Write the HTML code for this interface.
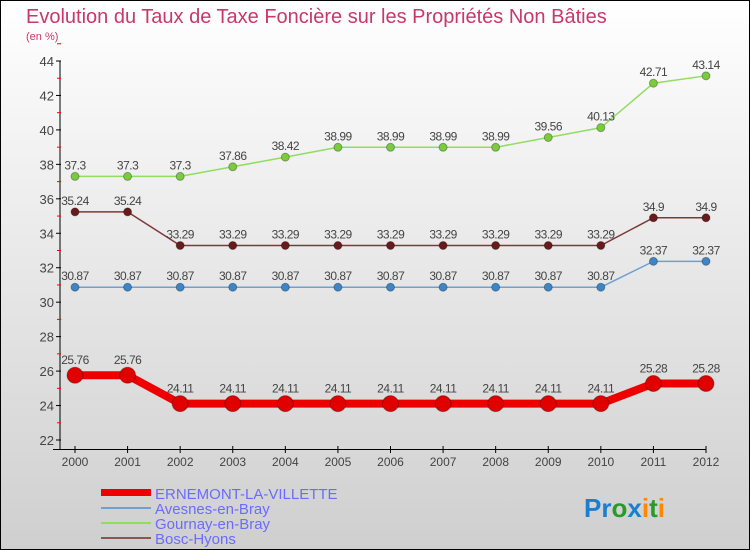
<!DOCTYPE html>
<html><head><meta charset="utf-8"><style>
body{margin:0}
svg{display:block;font-family:"Liberation Sans",sans-serif}
</style></head><body>
<svg id="c" width="750" height="550" xmlns="http://www.w3.org/2000/svg">
<defs><linearGradient id="bg" x1="0" y1="0" x2="0" y2="1"><stop offset="0" stop-color="#ffffff"/><stop offset="1" stop-color="#cfcfcf"/></linearGradient></defs>
<rect x="0.5" y="0.5" width="749" height="549" fill="url(#bg)" stroke="#000"/>
<text x="26" y="23" font-size="20" fill="#c8386a">Evolution du Taux de Taxe Foncière sur les Propriétés Non Bâties</text>
<text x="26" y="40" font-size="11" fill="#c8386a">(en %)</text>
<g id="axes"></g>
<g id="series"></g>
<g>
<rect x="101" y="489" width="50" height="7" fill="#e00"/>
<text x="155" y="499" font-size="15" fill="#6b6bff">ERNEMONT-LA-VILLETTE</text>
<rect x="101" y="507" width="50" height="2" fill="#6fa0d0"/>
<text x="155" y="514" font-size="15" fill="#6b6bff">Avesnes-en-Bray</text>
<rect x="101" y="522" width="50" height="2" fill="#90dd60"/>
<text x="155" y="529" font-size="15" fill="#6b6bff">Gournay-en-Bray</text>
<rect x="101" y="537" width="50" height="2" fill="#8a5555"/>
<text x="155" y="544" font-size="15" fill="#6b6bff">Bosc-Hyons</text>
</g>
<g font-size="26" font-weight="bold">
<text x="584" y="517"><tspan fill="#1a7fd0">Pr</tspan><tspan fill="#2a9a2a">o</tspan><tspan fill="#1a7fd0">x</tspan><tspan fill="#ff8800">i</tspan><tspan fill="#2a9a2a">t</tspan><tspan fill="#ff8800">i</tspan></text>
</g>
</svg>
<script>
const years=[2000,2001,2002,2003,2004,2005,2006,2007,2008,2009,2010,2011,2012];
const ernemont=[25.76,25.76,24.11,24.11,24.11,24.11,24.11,24.11,24.11,24.11,24.11,25.28,25.28];
const avesnes=[30.87,30.87,30.87,30.87,30.87,30.87,30.87,30.87,30.87,30.87,30.87,32.37,32.37];
const gournay=[37.3,37.3,37.3,37.86,38.42,38.99,38.99,38.99,38.99,39.56,40.13,42.71,43.14];
const bosc=[35.24,35.24,33.29,33.29,33.29,33.29,33.29,33.29,33.29,33.29,33.29,34.9,34.9];
const yTicks=[22,24,26,28,30,32,34,36,38,40,42,44];
const NS="http://www.w3.org/2000/svg";
const x=i=>75+i*(706-75)/(years.length-1);
const y=v=>440-(v-22)*(440-61)/22;
function mk(tag,attrs,parent,txt){const e=document.createElementNS(NS,tag);for(const k in attrs)e.setAttribute(k,attrs[k]);if(txt!==undefined)e.textContent=txt;parent.appendChild(e);return e;}
const ax=document.getElementById('axes');
let e=mk('line',{x1:60,y1:61,x2:60,y2:450,stroke:'#000'},ax);


e=mk('line',{x1:53,y1:449.5,x2:706,y2:449.5,stroke:'#000'},ax);


yTicks.forEach(v=>{
 mk('line',{x1:56,y1:y(v),x2:61,y2:y(v),stroke:'#000'},ax);
 mk('line',{x1:57,y1:y(v+1),x2:61,y2:y(v+1),stroke:'#f00'},ax);
 const t=mk('text',{x:54,y:y(v)+5,'text-anchor':'end','font-size':13,fill:'#444'},ax,v);
 
 
});
years.forEach((yr,i)=>{
 mk('line',{x1:x(i),y1:446,x2:x(i),y2:453,stroke:'#000'},ax);
 const t=mk('text',{x:x(i),y:466,'text-anchor':'middle','font-size':12,fill:'#444'},ax,yr);
 
 
});
const sg=document.getElementById('series');
const series=[[avesnes,'#6fa0d0','#3c86c8',1.5,4,'avesnes'],[gournay,'#90dd60','#7acc3c',1.5,4,'gournay'],[bosc,'#7a3a3a','#6a1a1a',1.5,4,'bosc'],[ernemont,'#ee0000','#e00000',8,8,'ernemont']];
series.forEach(([d,lc,pc,w,r,nm])=>{
 const p=mk('polyline',{points:d.map((v,i)=>x(i)+','+y(v)).join(' '),fill:'none',stroke:lc,'stroke-width':w},sg);
 
 
 d.forEach((v,i)=>{
  const c=mk('circle',{cx:x(i),cy:y(v),r:r,fill:pc,stroke:'rgba(0,0,0,0.3)','stroke-width':1},sg);
  
  
  const t=mk('text',{x:x(i),y:y(v)-(nm==='ernemont'?11:7),'text-anchor':'middle','font-size':12,fill:'#444','letter-spacing':'-0.5'},sg,v);
  
  
 });
});
</script>
</body></html>
